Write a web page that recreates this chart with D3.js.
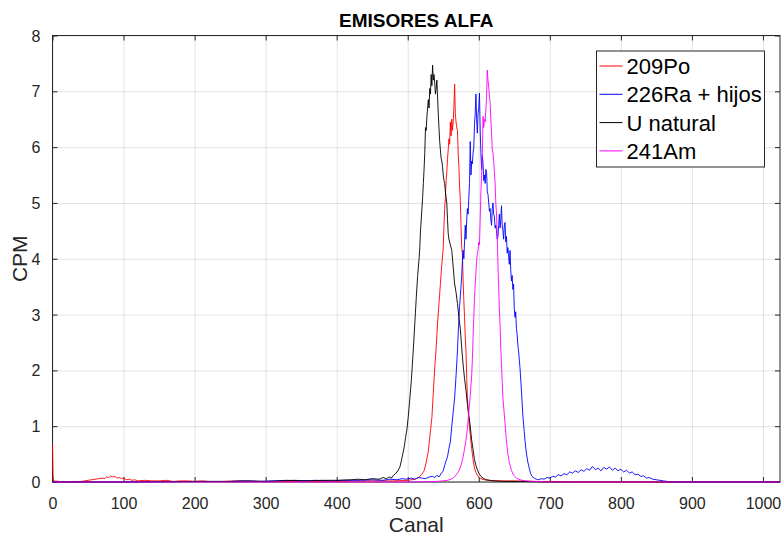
<!DOCTYPE html>
<html>
<head>
<meta charset="utf-8">
<script src="https://cdn.jsdelivr.net/npm/d3@7"></script>
<style>
  body { margin: 0; background: #fff; }
  svg { font-family: "Liberation Sans", Arial, Helvetica, sans-serif; }
  .grid line { stroke: #262626; stroke-opacity: 0.13; }
  .grid path { display: none; }
  .axis path { display: none; }
  .axis line { stroke: #262626; }
  .axis text { fill: #262626; font-size: 16px; }
  .axisLabel { fill: #262626; font-size: 21px; }
  .spec { fill: none; stroke-width: 0.9; stroke-linejoin: round; }
</style>
</head>
<body>
<div id="graph"></div>
<script>

// 
// Data...
// 

var seriesNames  = ['209Po', '226Ra + hijos', 'U natural', '241Am'];
var seriesColors = ['#ff0000', '#0000ff', '#000000', '#ff00ff'];

var xTicks = [0, 100, 200, 300, 400, 500, 600, 700, 800, 900, 1000];
var yTicks = [0, 1, 2, 3, 4, 5, 6, 7, 8];

var po209Canal = [0, 1, 10, 20, 30, 40, 45, 50, 55, 60, 65, 70, 73, 76, 79, 82, 85, 88, 91, 94, 97, 100,
    104, 108, 112, 116, 120, 130, 140, 150, 160, 170, 180, 190, 200, 210, 220, 240, 260, 280, 300, 350,
    400, 450, 480, 500, 510, 515, 520, 523, 526, 529, 531, 534, 536, 538, 540, 542, 544, 546, 548, 550,
    551, 552, 553, 554, 555, 556, 557, 558, 559, 560, 561, 562, 563, 564, 565, 566, 567, 568, 569, 570,
    571, 572, 573, 574, 575, 576, 577, 578, 579, 580, 581, 582, 583, 584, 586, 588, 590, 592, 594, 596,
    599, 603, 608, 615, 630, 650, 680, 700, 750, 1024];
var po209Cpm = [0.68, 0.02, 0.01, 0.00, 0.01, 0.01, 0.02, 0.03, 0.04, 0.05, 0.06, 0.07, 0.06, 0.09, 0.08,
    0.11, 0.09, 0.10, 0.07, 0.08, 0.06, 0.07, 0.04, 0.05, 0.03, 0.04, 0.02, 0.03, 0.02, 0.02, 0.03, 0.01,
    0.02, 0.02, 0.01, 0.02, 0.01, 0.01, 0.02, 0.01, 0.01, 0.01, 0.01, 0.02, 0.02, 0.03, 0.05, 0.08, 0.14,
    0.20, 0.35, 0.55, 0.80, 1.15, 1.60, 2.05, 2.40, 2.85, 3.20, 3.55, 3.90, 4.20, 4.60, 4.90, 5.10, 5.40,
    5.55, 5.80, 5.95, 6.15, 6.05, 6.45, 6.20, 6.50, 6.30, 6.45, 6.70, 7.13, 6.60, 6.45, 6.35, 6.30, 5.90,
    5.65, 5.30, 5.05, 4.60, 4.20, 4.10, 3.60, 3.25, 2.95, 2.60, 2.35, 1.90, 1.50, 1.10, 0.85, 0.60, 0.40,
    0.25, 0.17, 0.10, 0.06, 0.04, 0.03, 0.02, 0.02, 0.01, 0.01, 0.00, 0.00];

var ra226Canal = [0, 100, 200, 250, 270, 290, 310, 330, 350, 370, 390, 410, 430, 450, 465, 475, 485, 492,
    498, 505, 510, 515, 520, 525, 530, 535, 538, 541, 544, 547, 550, 552, 554, 556, 558, 560, 562, 564,
    566, 568, 570, 571, 573, 575, 576, 577, 578, 579, 580, 581, 582, 583, 584, 585, 586, 587, 588, 589,
    590, 591, 592, 593, 594, 595, 596, 597, 598, 599, 600, 601, 602, 603, 604, 605, 606, 607, 608, 609,
    610, 611, 612, 613, 614, 615, 616, 617, 618, 619, 620, 621, 622, 623, 624, 625, 626, 627, 628, 629,
    630, 631, 632, 633, 634, 635, 636, 637, 638, 639, 640, 641, 642, 643, 644, 645, 646, 647, 648, 649,
    650, 651, 652, 653, 654, 655, 656, 658, 660, 662, 664, 665, 667, 669, 671, 673, 675, 678, 681, 684,
    688, 692, 696, 700, 704, 708, 712, 716, 720, 724, 728, 732, 736, 740, 744, 748, 752, 756, 760, 764,
    768, 772, 776, 780, 784, 788, 792, 796, 800, 804, 808, 812, 816, 820, 824, 828, 832, 836, 840, 845,
    850, 855, 860, 865, 870, 1024];
var ra226Cpm = [0.00, 0.00, 0.01, 0.01, 0.02, 0.01, 0.02, 0.03, 0.02, 0.03, 0.02, 0.03, 0.03, 0.04, 0.03,
    0.05, 0.04, 0.06, 0.05, 0.07, 0.05, 0.08, 0.07, 0.06, 0.09, 0.10, 0.08, 0.12, 0.09, 0.15, 0.20, 0.30,
    0.38, 0.45, 0.60, 0.72, 1.00, 1.25, 1.50, 1.90, 2.35, 2.65, 3.15, 3.50, 3.70, 3.95, 4.15, 4.00, 4.30,
    4.60, 4.35, 4.70, 4.90, 4.80, 5.10, 5.35, 6.10, 5.50, 5.75, 5.70, 5.90, 6.00, 6.40, 6.60, 6.95, 6.50,
    6.25, 6.60, 6.70, 6.97, 6.30, 5.90, 5.60, 5.85, 5.70, 5.40, 5.50, 5.35, 5.60, 5.55, 5.20, 5.15, 5.00,
    4.85, 4.90, 4.70, 4.60, 4.90, 5.00, 4.80, 4.75, 4.55, 4.60, 4.50, 4.35, 4.40, 4.60, 4.80, 4.55, 4.70,
    4.95, 4.60, 4.50, 4.35, 4.60, 4.65, 4.30, 4.40, 4.10, 4.20, 4.05, 3.90, 4.15, 3.80, 3.60, 3.70, 3.45,
    3.55, 3.10, 2.95, 3.05, 2.75, 2.65, 2.45, 2.35, 2.05, 1.65, 1.20, 0.90, 0.75, 0.52, 0.36, 0.25, 0.15,
    0.10, 0.07, 0.05, 0.04, 0.06, 0.05, 0.08, 0.07, 0.10, 0.09, 0.13, 0.11, 0.15, 0.13, 0.18, 0.16, 0.20,
    0.17, 0.22, 0.19, 0.24, 0.21, 0.28, 0.22, 0.25, 0.20, 0.26, 0.23, 0.27, 0.21, 0.25, 0.20, 0.23, 0.18,
    0.21, 0.16, 0.18, 0.13, 0.14, 0.10, 0.11, 0.07, 0.08, 0.05, 0.04, 0.03, 0.02, 0.01, 0.00, 0.00];

var uNatCanal = [0, 100, 200, 250, 280, 300, 320, 340, 360, 380, 400, 420, 430, 440, 450, 460, 465, 470,
    474, 477, 480, 483, 486, 489, 491, 493, 495, 497, 499, 501, 503, 505, 507, 508, 510, 512, 514, 516,
    517, 518, 520, 521, 522, 523, 524, 525, 526, 527, 528, 529, 530, 531, 532, 533, 534, 535, 536, 537,
    538, 539, 540, 541, 542, 543, 544, 545, 546, 547, 548, 549, 550, 551, 552, 553, 554, 555, 556, 557,
    558, 559, 560, 562, 564, 566, 568, 570, 572, 574, 576, 578, 580, 582, 584, 586, 588, 590, 592, 594,
    596, 598, 600, 603, 606, 610, 615, 620, 640, 660, 700, 1024];
var uNatCpm = [0.00, 0.00, 0.01, 0.01, 0.02, 0.01, 0.02, 0.03, 0.02, 0.03, 0.03, 0.04, 0.05, 0.04, 0.06,
    0.05, 0.08, 0.06, 0.09, 0.07, 0.12, 0.15, 0.20, 0.27, 0.38, 0.50, 0.62, 0.80, 0.95, 1.20, 1.50, 1.80,
    2.20, 2.40, 2.85, 3.30, 3.70, 4.00, 4.20, 4.50, 4.90, 5.10, 5.35, 5.60, 5.90, 6.35, 6.30, 6.55, 6.70,
    6.85, 6.70, 7.05, 6.95, 7.30, 7.10, 7.47, 7.20, 7.30, 7.15, 6.95, 7.05, 7.20, 6.90, 6.60, 6.35, 6.10,
    5.95, 5.80, 5.75, 5.65, 5.50, 5.40, 5.35, 5.20, 5.10, 5.00, 4.70, 4.45, 4.35, 4.30, 4.25, 4.15, 3.85,
    3.55, 3.40, 3.20, 2.95, 2.75, 2.40, 2.10, 1.85, 1.65, 1.40, 1.20, 1.00, 0.75, 0.58, 0.40, 0.30, 0.22,
    0.16, 0.10, 0.07, 0.04, 0.03, 0.02, 0.01, 0.01, 0.00, 0.00];

var am241Canal = [0, 100, 300, 400, 500, 540, 550, 556, 561, 565, 569, 572, 575, 578, 580, 582, 584, 586,
    588, 590, 591, 592, 593, 594, 595, 596, 597, 598, 599, 600, 601, 602, 603, 604, 605, 606, 607, 608,
    609, 610, 611, 612, 613, 614, 615, 616, 617, 618, 619, 620, 621, 622, 623, 624, 625, 626, 627, 628,
    629, 630, 631, 632, 633, 634, 636, 637, 639, 641, 643, 646, 649, 653, 658, 665, 680, 700, 1024];
var am241Cpm = [0.00, 0.00, 0.00, 0.00, 0.00, 0.01, 0.02, 0.03, 0.05, 0.08, 0.14, 0.20, 0.30, 0.45, 0.60,
    0.75, 0.95, 1.25, 1.55, 1.90, 2.20, 2.60, 2.95, 3.30, 3.55, 3.75, 3.95, 4.10, 4.15, 4.30, 4.25, 4.70,
    5.20, 5.50, 5.85, 6.55, 6.35, 6.50, 6.45, 6.67, 6.90, 7.38, 7.20, 7.08, 6.90, 6.80, 6.50, 6.25, 5.95,
    5.90, 5.75, 5.55, 5.35, 5.00, 4.80, 4.40, 3.90, 3.50, 3.10, 2.80, 2.40, 2.10, 1.80, 1.50, 1.20, 1.05,
    0.72, 0.50, 0.35, 0.21, 0.12, 0.07, 0.04, 0.02, 0.01, 0.00, 0.00];

var seriesCanal = [po209Canal, ra226Canal, uNatCanal, am241Canal];
var seriesCpm   = [po209Cpm,   ra226Cpm,   uNatCpm,   am241Cpm];


//
// D3 Stuff...
//
var margin = { top: 35.5, right: 4, bottom: 53, left: 52.5 };

var width  = 784 - margin.left - margin.right;
var height = 535 - margin.top  - margin.bottom;

var xScale = d3.scaleLinear ()
               .domain ([0, 1024])
               .range ([0, width]);

var yScale = d3.scaleLinear ()
               .domain ([0, 8])
               .range ([height, 0]);

var line = d3.line ()
             .x (function(d) { return xScale (d.c); })
             .y (function(d) { return yScale (d.v); });

var svg = d3.select ('div#graph')
            .append ('svg')
            .attr ('width', 784)
            .attr ('height', 535)
            .append ('g')
            .attr ('transform', 'translate(' + margin.left + ',' + margin.top + ')');

// Grid
svg.append ('g')
   .attr ('class', 'grid')
   .attr ('transform', 'translate(0,' + height + ')')
   .call (d3.axisBottom (xScale).tickValues (xTicks).tickSize (-height).tickFormat (''));

svg.append ('g')
   .attr ('class', 'grid')
   .call (d3.axisLeft (yScale).tickValues (yTicks).tickSize (-width).tickFormat (''));

// Axes (ticks inside, box on)
svg.append ('g')
   .attr ('class', 'x axis')
   .attr ('transform', 'translate(0,' + height + ')')
   .call (d3.axisBottom (xScale).tickValues (xTicks).tickFormat (d3.format ('d'))
            .tickSizeInner (-5).tickSizeOuter (0).tickPadding (16));

svg.append ('g')
   .attr ('class', 'y axis')
   .call (d3.axisLeft (yScale).tickValues (yTicks).tickFormat (d3.format ('d'))
            .tickSizeInner (-5).tickSizeOuter (0).tickPadding (12));

svg.append ('g')
   .attr ('class', 'axis')
   .call (d3.axisTop (xScale).tickValues (xTicks).tickSizeInner (-5).tickSizeOuter (0).tickFormat (''));

svg.append ('g')
   .attr ('class', 'axis')
   .attr ('transform', 'translate(' + width + ',0)')
   .call (d3.axisRight (yScale).tickValues (yTicks).tickSizeInner (-5).tickSizeOuter (0).tickFormat (''));

svg.select ('.y.axis').selectAll ('text').attr ('dy', '0.35em');

svg.append ('rect')
   .attr ('x', 0)
   .attr ('y', 0)
   .attr ('width', width)
   .attr ('height', height)
   .attr ('fill', 'none')
   .attr ('stroke', '#262626')
   .attr ('stroke-width', 1);

// Spectra (drawn over the box, like the original)
for (var i = 0; i < seriesNames.length; i++)
{
    var data = seriesCanal[i].map (function (c, j) { return { c: c, v: seriesCpm[i][j] }; });

    svg.append ('path')
       .datum (data)
       .attr ('class', 'spec')
       .attr ('stroke', seriesColors[i])
       .attr ('d', line);
}

// Labels
svg.append ('text')
   .style ('text-anchor', 'middle')
   .style ('font-weight', 'bold')
   .style ('font-size', '19px')
   .attr ('fill', '#000')
   .attr ('x', width * 0.5)
   .attr ('y', -9)
   .text ('EMISORES ALFA');

svg.append ('text')
   .style ('text-anchor', 'middle')
   .attr ('x', width * 0.5)
   .attr ('y', height + 50)
   .attr ('class', 'axisLabel')
   .text ('Canal');

svg.append ('text')
   .style ('text-anchor', 'middle')
   .attr ('transform', 'rotate(-90)')
   .attr ('x', -height * 0.5)
   .attr ('y', -25.5)
   .attr ('class', 'axisLabel')
   .text ('CPM');

// Legend
var legend = svg.append ('g')
                .attr ('transform', 'translate(' + (596.5 - margin.left) + ',' + (51 - margin.top) + ')');

legend.append ('rect')
      .attr ('width', 168)
      .attr ('height', 116)
      .attr ('fill', '#fff')
      .attr ('stroke', '#262626')
      .attr ('stroke-width', 1);

seriesNames.forEach (function (name, i)
{
    var yy = 15 + i * 28.3;

    legend.append ('line')
          .attr ('x1', 3)
          .attr ('x2', 26)
          .attr ('y1', yy)
          .attr ('y2', yy)
          .attr ('stroke', seriesColors[i])
          .attr ('stroke-width', 1);

    legend.append ('text')
          .attr ('x', 30)
          .attr ('y', yy + 8)
          .style ('font-size', '22px')
          .attr ('fill', '#000')
          .text (name);
});

</script>
</body>
</html>
